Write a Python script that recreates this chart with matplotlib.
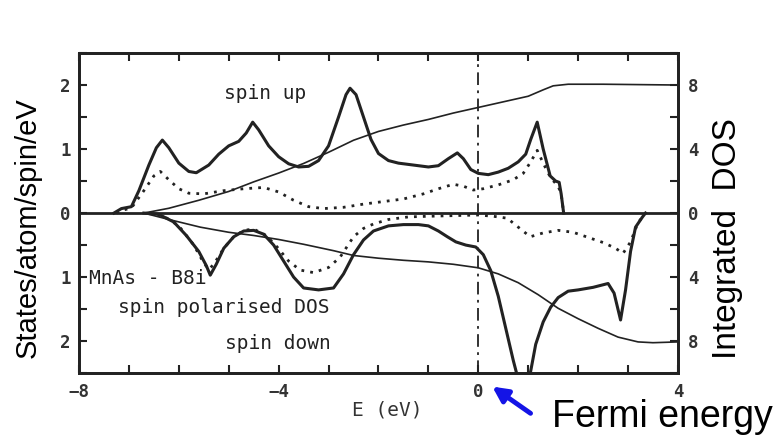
import matplotlib
matplotlib.use("Agg")
import matplotlib.pyplot as plt
from matplotlib.ticker import MultipleLocator, FuncFormatter

# spin up: total DOS (solid), partial DOS (dotted), integrated DOS (thin, right axis)
up_E = [-7.3, -7.15, -6.95, -6.8, -6.6, -6.45, -6.33, -6.2, -6.0, -5.8, -5.65, -5.4, -5.2, -5.0,
        -4.8, -4.65, -4.52, -4.4, -4.2, -4.0, -3.8, -3.6, -3.4, -3.2, -3.0, -2.8, -2.65, -2.57,
        -2.45, -2.3, -2.15, -2.0, -1.8, -1.6, -1.3, -1.0, -0.8, -0.6, -0.42, -0.3, -0.15, 0.0,
        0.2, 0.4, 0.6, 0.8, 0.95, 1.05, 1.18, 1.3, 1.44, 1.55, 1.62, 1.66, 1.71]
up_total = [0.0, 0.07, 0.1, 0.35, 0.75, 1.02, 1.14, 1.02, 0.78, 0.65, 0.63, 0.75, 0.92, 1.05,
            1.12, 1.25, 1.42, 1.3, 1.05, 0.88, 0.77, 0.72, 0.73, 0.82, 1.05, 1.5, 1.85, 1.95,
            1.85, 1.5, 1.15, 0.93, 0.82, 0.78, 0.75, 0.72, 0.74, 0.85, 0.94, 0.85, 0.68, 0.62,
            0.6, 0.64, 0.7, 0.8, 0.92, 1.15, 1.42, 1.0, 0.58, 0.5, 0.48, 0.3, 0.0]

up_dot_E = [-7.25, -7.1, -6.95, -6.7, -6.5, -6.37, -6.2, -6.0, -5.8, -5.5, -5.1, -4.7, -4.3,
            -4.0, -3.7, -3.4, -3.1, -2.7, -2.3, -1.9, -1.5, -1.1, -0.8, -0.5, -0.3, -0.1, 0.1,
            0.4, 0.7, 0.9, 1.05, 1.18, 1.3, 1.45, 1.6, 1.66, 1.71]
up_dot = [0.0, 0.05, 0.08, 0.35, 0.58, 0.65, 0.52, 0.38, 0.31, 0.3, 0.35, 0.38, 0.4,
          0.33, 0.2, 0.1, 0.07, 0.09, 0.14, 0.18, 0.22, 0.3, 0.38, 0.45, 0.42, 0.36, 0.38,
          0.44, 0.52, 0.62, 0.8, 0.98, 0.78, 0.55, 0.42, 0.3, 0.0]

up_int_E = [-6.7, -6.2, -5.6, -5.0, -4.5, -4.0, -3.5, -3.0, -2.5, -2.0, -1.5, -1.0, -0.5, 0.0,
            0.5, 1.0, 1.3, 1.5, 1.8, 2.5, 4.0]
up_int = [0.0, 0.3, 0.8, 1.35, 1.95, 2.5, 3.1, 3.8, 4.55, 5.1, 5.5, 5.85, 6.25, 6.6,
          6.95, 7.3, 7.7, 7.95, 8.05, 8.05, 8.0]

# spin down (drawn downwards)
dn_E = [-6.7, -6.4, -6.1, -5.85, -5.6, -5.45, -5.37, -5.25, -5.1, -4.9, -4.7, -4.5, -4.3, -4.1,
        -3.9, -3.7, -3.5, -3.2, -2.9, -2.7, -2.5, -2.3, -2.1, -1.8, -1.5, -1.2, -1.0, -0.8,
        -0.62, -0.45, -0.25, -0.05, 0.1, 0.25, 0.4, 0.55, 0.7, 0.8, 0.92, 1.03, 1.15, 1.3,
        1.45, 1.6, 1.8, 2.0, 2.3, 2.5, 2.6, 2.72, 2.85, 2.95, 3.05, 3.15, 3.29, 3.35]
dn_total = [0.0, -0.02, -0.14, -0.35, -0.6, -0.82, -0.97, -0.8, -0.55, -0.37, -0.28, -0.27,
            -0.33, -0.5, -0.75, -1.0, -1.17, -1.2, -1.17, -0.95, -0.65, -0.42, -0.28, -0.2,
            -0.18, -0.18, -0.2, -0.28, -0.37, -0.45, -0.5, -0.53, -0.65, -0.9, -1.3, -1.8,
            -2.3, -2.6, -2.7, -2.55, -2.05, -1.7, -1.47, -1.32, -1.22, -1.2, -1.16, -1.12,
            -1.1, -1.25, -1.67, -1.2, -0.6, -0.22, -0.06, 0.0]

dn_dot_E = [-6.6, -6.3, -6.0, -5.7, -5.5, -5.4, -5.3, -5.1, -4.9, -4.7, -4.5, -4.25, -4.03,
            -3.8, -3.57, -3.3, -3.0, -2.77, -2.5, -2.3, -2.1, -1.8, -1.4, -1.0, -0.5, 0.0,
            0.3, 0.58, 0.8, 1.04, 1.3, 1.6, 1.9, 2.2, 2.5, 2.75, 2.9, 3.05, 3.2, 3.3, 3.35]
dn_dot = [0.0, -0.05, -0.2, -0.5, -0.78, -0.88, -0.8, -0.55, -0.37, -0.27, -0.25, -0.35, -0.53,
          -0.75, -0.89, -0.93, -0.85, -0.69, -0.37, -0.24, -0.17, -0.1, -0.06, -0.05, -0.04,
          -0.03, -0.05, -0.08, -0.22, -0.37, -0.31, -0.27, -0.3, -0.38, -0.46, -0.55, -0.63,
          -0.45, -0.15, -0.05, 0.0]

dn_int_E = [-6.7, -6.2, -5.57, -5.0, -4.5, -4.0, -3.5, -2.9, -2.5, -2.0, -1.5, -1.0, -0.5, 0.0,
            0.4, 0.8, 1.2, 1.6, 2.0, 2.4, 2.8, 3.2, 3.5, 4.0]
dn_int = [0.0, -0.4, -0.88, -1.2, -1.4, -1.65, -1.95, -2.35, -2.65, -2.82, -2.95, -3.05, -3.2,
          -3.42, -3.8, -4.35, -5.1, -5.95, -6.6, -7.2, -7.75, -8.05, -8.1, -8.05]

ink = "#222222"
mono = ["DejaVu Sans Mono"]
sans = ["Liberation Sans", "DejaVu Sans"]

fig = plt.figure(figsize=(7.79, 4.4), dpi=100)
ax = fig.add_axes([0.1014, 0.152, 0.7689, 0.7275])
ax2 = ax.twinx()

ax.plot(up_E, up_total, color=ink, lw=2.2)
ax.plot(up_dot_E, up_dot, color=ink, lw=2.0, ls=(0, (1, 2.2)))
ax.plot(dn_E, dn_total, color=ink, lw=2.2)
ax.plot(dn_dot_E, dn_dot, color=ink, lw=2.0, ls=(0, (1, 2.2)))
ax2.plot(up_int_E, up_int, color=ink, lw=1.2)
ax2.plot(dn_int_E, dn_int, color=ink, lw=1.2)

ax.axhline(0, color=ink, lw=2.0)
ax.axvline(0, color=ink, lw=1.3, ls=(0, (7, 3, 1.5, 3)))

ax.set_xlim(-8, 4)
ax.set_ylim(-2.5, 2.5)
ax2.set_ylim(-10, 10)

ax.xaxis.set_major_locator(MultipleLocator(4))
ax.xaxis.set_minor_locator(MultipleLocator(1))
ax.yaxis.set_major_locator(MultipleLocator(1))
ax.yaxis.set_minor_locator(MultipleLocator(0.5))
ax2.yaxis.set_major_locator(MultipleLocator(4))
ax2.yaxis.set_minor_locator(MultipleLocator(2))

ax.yaxis.set_major_formatter(FuncFormatter(lambda v, p: "" if abs(v) > 2.2 else "%d" % abs(round(v))))
ax2.yaxis.set_major_formatter(FuncFormatter(lambda v, p: "" if abs(v) > 9 else "%d" % abs(round(v))))

ax.tick_params(axis="x", which="both", direction="in", top=True, colors=ink, pad=7)
ax.tick_params(axis="y", which="both", direction="in", colors=ink, pad=6)
ax.tick_params(which="both", length=6, width=1.5)
ax2.tick_params(which="both", direction="in", colors=ink, length=6, width=1.5, pad=7)

for a in (ax, ax2):
    for s in a.spines.values():
        s.set_linewidth(2.0)
        s.set_color(ink)
for lab in ax.get_xticklabels() + ax.get_yticklabels() + ax2.get_yticklabels():
    lab.set_family(mono)
    lab.set_fontsize(12.5)
    lab.set_fontweight("bold")
    lab.set_color("#333333")

ax.text(-4.27, 1.87, "spin up", family=mono, fontsize=14, color=ink, ha="center", va="center")
ax.text(-7.8, -1.02, "MnAs - B8i", family=mono, fontsize=14, color=ink, ha="left", va="center")
ax.text(-5.1, -1.47, "spin polarised DOS", family=mono, fontsize=14, color=ink,
        ha="center", va="center")
ax.text(-4.02, -2.03, "spin down", family=mono, fontsize=14, color=ink, ha="center", va="center")

fig.text(0.497, 0.068, "E (eV)", family=mono, fontsize=14, color="#333333",
         ha="center", va="center")

fig.text(0.035, 0.482, "States/atom/spin/eV", family=sans, fontsize=21, rotation=90,
         ha="center", va="center", color="black")
fig.text(0.9345, 0.457, "Integrated  DOS", family=sans, fontsize=24, rotation=90,
         ha="center", va="center", color="black")
fig.text(0.7086, 0.052, "Fermi energy", family=sans, fontsize=27, ha="left", va="center",
         color="black")

ax.annotate("", xy=(0.629, 0.125), xycoords="figure fraction",
            xytext=(0.684, 0.057), textcoords="figure fraction",
            arrowprops=dict(arrowstyle="-|>,head_length=0.9,head_width=0.45",
                            color="#1414e6", lw=3.5),
            annotation_clip=False)

fig.savefig("out.png", dpi=100)
